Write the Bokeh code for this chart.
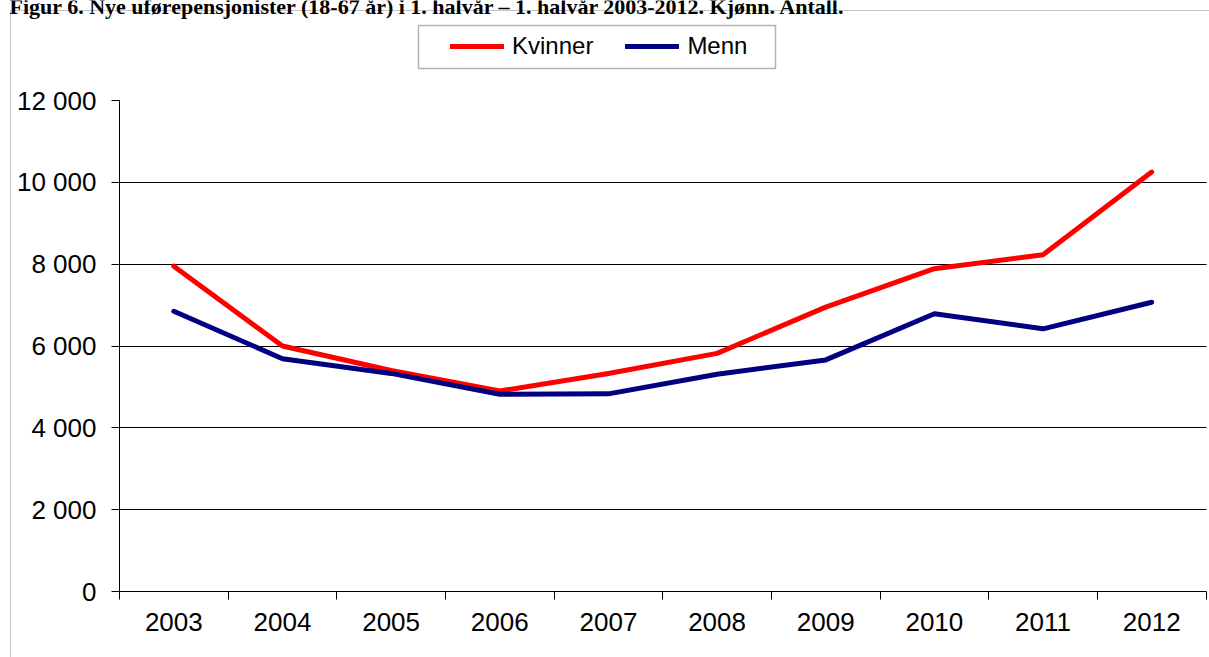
from bokeh.plotting import figure
from bokeh.models import (Range1d, FixedTicker, Legend, LegendItem, BoxAnnotation, Label)
from bokeh.embed import file_html
from bokeh.resources import INLINE

title = "Figur 6. Nye uførepensjonister (18-67 år) i 1. halvår – 1. halvår 2003-2012. Kjønn. Antall."
years = ["2003", "2004", "2005", "2006", "2007", "2008", "2009", "2010", "2011", "2012"]
kvinner = [7950, 6000, 5400, 4900, 5330, 5820, 6950, 7890, 8230, 10250]
menn = [6850, 5690, 5330, 4820, 4830, 5310, 5660, 6790, 6420, 7070]
y_ticks = [0, 2000, 4000, 6000, 8000, 10000, 12000]
y_labels = ["0", "2 000", "4 000", "6 000", "8 000", "10 000", "12 000"]

n = len(years)
xs = [i + 0.5 for i in range(n)]
y_max = y_ticks[-1]

# ---- layout (pixels) ----
W, H = 1209, 657
X0_PX, X1_PX = 119.0, 1205.5     # plot area left / right
Y0_PX, YT_PX = 591.0, 100.0      # value 0 / value y_max
ux = (X1_PX - X0_PX) / n
uy = (Y0_PX - YT_PX) / y_max

p = figure(width=W, height=H, output_backend="svg", toolbar_location=None,
           x_range=Range1d(-X0_PX / ux, (W - X0_PX) / ux),
           y_range=Range1d(-(H - Y0_PX) / uy, Y0_PX / uy))
p.min_border = 0
p.min_border_left = p.min_border_right = p.min_border_top = p.min_border_bottom = 0
p.outline_line_color = None
p.background_fill_color = "white"
p.border_fill_color = "white"

FONT = "Liberation Sans"

# y axis
p.yaxis.fixed_location = 0
p.yaxis.bounds = (0, y_max)
p.yaxis.ticker = FixedTicker(ticks=y_ticks)
p.yaxis.major_label_overrides = {t: l for t, l in zip(y_ticks, y_labels)}
p.yaxis.major_tick_out = 8
p.yaxis.major_tick_in = 0
p.yaxis.minor_tick_line_color = None
p.yaxis.axis_line_color = "#000000"
p.yaxis.major_tick_line_color = "#000000"
p.yaxis.major_label_text_font = FONT
p.yaxis.major_label_text_font_size = "26px"
p.yaxis.major_label_text_color = "#000000"
p.yaxis.major_label_standoff = 15

# x axis
p.xaxis.fixed_location = 0
p.xaxis.bounds = (0, n)
p.xaxis.ticker = FixedTicker(ticks=xs, minor_ticks=list(range(n + 1)))
p.xaxis.major_label_overrides = {x: y for x, y in zip(xs, years)}
p.xaxis.major_tick_line_color = None
p.xaxis.major_tick_out = 0
p.xaxis.major_tick_in = 0
p.xaxis.minor_tick_out = 8
p.xaxis.minor_tick_in = 0
p.xaxis.minor_tick_line_color = "#000000"
p.xaxis.axis_line_color = "#000000"
p.xaxis.major_label_text_font = FONT
p.xaxis.major_label_text_font_size = "26px"
p.xaxis.major_label_text_color = "#000000"
p.xaxis.major_label_standoff = 13

# grid
p.xgrid.grid_line_color = None
p.ygrid.ticker = FixedTicker(ticks=y_ticks[1:-1])
p.ygrid.grid_line_color = "#000000"
p.ygrid.grid_line_width = 1
if "cross_bounds" in p.ygrid.properties():
    p.ygrid.cross_bounds = (0, n)
else:
    p.ygrid.level = "image"
    p.add_layout(BoxAnnotation(right=0, fill_color="white", fill_alpha=1,
                               line_color=None, level="underlay"))
    p.add_layout(BoxAnnotation(left=n, fill_color="white", fill_alpha=1,
                               line_color=None, level="underlay"))

r1 = p.line(xs, kvinner, line_color="#FF0000", line_width=5,
            line_cap="round", line_join="round")
r2 = p.line(xs, menn, line_color="#000080", line_width=5,
            line_cap="round", line_join="round")

legend = Legend(items=[LegendItem(label="Kvinner", renderers=[r1]),
                       LegendItem(label="Menn", renderers=[r2])],
                orientation="horizontal", location=(450, H - 60),
                padding=5, margin=0, spacing=32, label_standoff=8,
                glyph_width=54, glyph_height=20,
                label_text_font=FONT, label_text_font_size="24px",
                label_text_color="#000000",
                border_line_color=None, background_fill_alpha=0)
p.add_layout(legend, "center")

# legend frame and outer chart frame
p.add_layout(BoxAnnotation(left=418, right=775, top=H - 25, bottom=H - 68,
                           left_units="screen", right_units="screen",
                           top_units="screen", bottom_units="screen",
                           fill_alpha=0, line_color="#000000", line_width=1.5))
p.add_layout(BoxAnnotation(left=10, right=W + 50, top=H - 10, bottom=-50,
                           left_units="screen", right_units="screen",
                           top_units="screen", bottom_units="screen",
                           fill_alpha=0, line_color="#404040", line_width=1))

p.add_layout(Label(x=9, y=H - 5.5, x_units="screen", y_units="screen",
                   text=title, text_font="Liberation Serif",
                   text_font_style="bold", text_font_size="22px",
                   text_color="#000000", text_baseline="alphabetic"))

open("out.html", "w").write(file_html(p, INLINE))
